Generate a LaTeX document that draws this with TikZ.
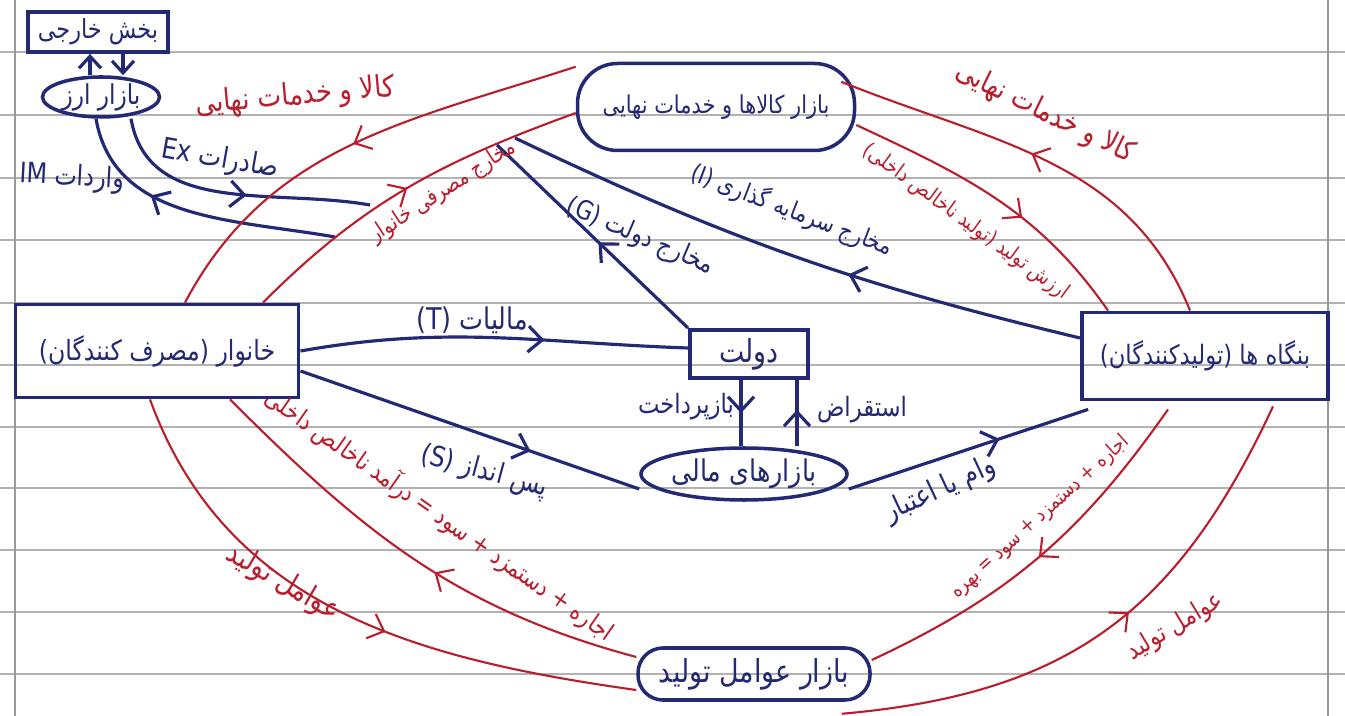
\documentclass[tikz,border=0pt]{standalone}
\usepackage{fontspec}
\usepackage{tikz}
\usetikzlibrary{shapes.geometric,arrows.meta,decorations.markings}
\newfontfamily\fa[Script=Arabic,FakeStretch=0.85]{DejaVu Sans}
\TeXXeTstate=1
\newcommand{\fatxt}[1]{{\fa\beginR #1\endR}}
\newcommand{\fsz}[1]{\fontsize{#1}{#1}\selectfont}
\definecolor{ink}{RGB}{35,42,115}
\definecolor{redink}{RGB}{185,30,45}

\begin{document}
\begin{tikzpicture}[x=0.1mm,y=-0.1mm,
	box/.style={rectangle,draw=ink,line width=1.1pt,text=ink,inner sep=1pt},
	market/.style={rectangle,rounded corners=#1,draw=ink,line width=1pt,text=ink,inner sep=1pt},
	oval/.style={ellipse,inner sep=0pt,draw=ink,line width=1pt,text=ink},
	flow/.style={draw=ink,line width=0.9pt},
	realflow/.style={draw=redink,line width=0.6pt},
	midarrow/.style={postaction={decorate},decoration={markings,mark=at position #1 with {\arrow{Straight Barb[length=1.4mm,width=2.6mm]}}}},
	lbl/.style={text=ink,inner sep=1pt},
	rlbl/.style={text=redink,inner sep=1pt},
	]

	\useasboundingbox (0,0) rectangle (1345,716);
	\fill[white] (0,0) rectangle (1345,716);
	\foreach \y in {52,115,178,240,303,365,427,488,550,612,674}
		\draw[black!30,line width=0.4pt] (0,\y) -- (1345,\y);
	\draw[black!40,line width=0.4pt] (15,0) -- (15,716);
	\draw[black!40,line width=0.4pt] (1328,0) -- (1328,716);

	\node[box,minimum width=14mm,minimum height=4mm,font=\fsz{7.5}] (ext) at (98,32) {\fatxt{بخش خارجی}};
	\node[oval,minimum width=11.7mm,minimum height=4mm,font=\fsz{7.8}] (fx) at (101,97) {\fatxt{بازار ارز}};
	\node[market=4mm,minimum width=27.7mm,minimum height=8.7mm,font=\fsz{7}] (gm) at (716,107) {\fatxt{بازار کالاها و خدمات نهایی}};
	\node[box,minimum width=28.3mm,minimum height=9.3mm,font=\fsz{7.9}] (hh) at (157,351) {\fatxt{خانوار (مصرف کنندگان)}};
	\node[box,minimum width=11.8mm,minimum height=4.8mm,font=\fsz{9}] (gov) at (749,354) {\fatxt{دولت}};
	\node[box,minimum width=24.6mm,minimum height=8.7mm,font=\fsz{7.6}] (fi) at (1205,356) {\fatxt{بنگاه ها (تولیدکنندگان)}};
	\node[oval,minimum width=18.3mm,minimum height=5.2mm,font=\fsz{8.5}] (fin) at (744,474) {\fatxt{بازارهای مالی}};
	\node[market=2.5mm,minimum width=23.2mm,minimum height=5.2mm,font=\fsz{9}] (fm) at (754,674) {\fatxt{بازار عوامل تولید}};

	\coordinate (exend) at (370,205);
	\coordinate (imstart) at (335,237);
	\coordinate (gend) at (497,145);
	\coordinate (iend) at (515,138);

	\draw[flow,-{Straight Barb[length=1.2mm,width=2.2mm]}] ([xshift=-1.1mm]fx.north) -- ([xshift=-1.1mm]fx.north |- ext.south);
	\draw[flow,-{Straight Barb[length=1.2mm,width=2.2mm]}] ([xshift=2.2mm]fx.north |- ext.south) -- ([xshift=2.2mm]fx.north);
	\draw[flow,midarrow=0.55] ([xshift=3mm]fx.south) to[out=-80,in=170] (exend);
	\draw[flow,midarrow=0.66] (imstart) to[out=170,in=-80] ([xshift=-0.5mm]fx.south);

	\draw[flow,midarrow=0.63] (hh.east) to[out=10,in=178] ([yshift=0.6mm]gov.west);
	\draw[flow,midarrow=0.68] ([yshift=-2mm]hh.east) -- ([yshift=-1.5mm]fin.west);
	\draw[flow,midarrow=0.47] (gov.north west) -- (gend);
	\draw[flow,midarrow=0.4] ([yshift=1.8mm]fi.west) to[bend left=6] (iend);
	\draw[flow,midarrow=0.5] ([xshift=-0.8mm]gov.south) -- ([xshift=-0.8mm]gov.south |- fin.north);
	\draw[flow,midarrow=0.55] ([xshift=4.8mm]gov.south |- fin.north) -- ([xshift=4.8mm]gov.south);
	\draw[flow,midarrow=0.63] ([yshift=-1.5mm]fin.east) -- ([xshift=0.8mm,yshift=-0.8mm]fi.south west);

	\draw[realflow,midarrow=0.5] ([yshift=-0.5mm]gm.north west) to[out=198,in=62] ([xshift=2.8mm]hh.north);
	\draw[realflow,midarrow=0.5] ([xshift=10.6mm]hh.north) to[out=45,in=200] ([yshift=-0.6mm]gm.west);
	\draw[realflow,midarrow=0.53] ([xshift=-1.5mm]fi.north) to[out=112,in=-22] ([xshift=-1.5mm,yshift=-2mm]gm.north east);
	\draw[realflow,midarrow=0.6] ([yshift=-1.8mm]gm.east) to[out=-25,in=125] ([xshift=-9.7mm]fi.north);
	\draw[realflow,midarrow=0.57] ([xshift=-0.7mm]hh.south) to[out=-70,in=172] ([yshift=-1.6mm]fm.west);
	\draw[realflow,midarrow=0.45] ([yshift=1.7mm]fm.west) to[out=165,in=-45] ([xshift=7.3mm]hh.south);
	\draw[realflow,midarrow=0.5] ([xshift=-3.7mm,yshift=-0.8mm]fi.south) to[out=235,in=25] ([yshift=1.4mm]fm.east);
	\draw[realflow,midarrow=0.55] ([xshift=-3mm,yshift=-1.2mm]fm.south east) to[out=5,in=245,looseness=1.1] ([xshift=6.8mm,yshift=-0.5mm]fi.south);

	\node[lbl,rotate=-10,font=\fsz{8.2}] (exl) at (220,160) {\fatxt{صادرات \beginL Ex\endL}};
	\node[lbl,rotate=-3,font=\fsz{8}] (iml) at (72,178) {\fatxt{واردات \beginL IM\endL}};
	\node[lbl,font=\fsz{8.5}] (tl) at (472,320) {\fatxt{مالیات \beginL(T)\endL}};
	\node[lbl,rotate=-15,font=\fsz{8}] (sl) at (484,472) {\fatxt{پس انداز \beginL(S)\endL}};
	\node[lbl,rotate=-23,font=\fsz{7.5}] (gl) at (640,237) {\fatxt{مخارج دولت \beginL(G)\endL}};
	\node[lbl,rotate=-21,font=\fsz{7}] (il) at (792,210) {\fatxt{مخارج سرمایه گذاری \beginL(I)\endL}};
	\node[lbl,font=\fsz{7.6}] (repl) at (686,407) {\fatxt{بازپرداخت}};
	\node[lbl,font=\fsz{7.6}] (borl) at (862,410) {\fatxt{استقراض}};
	\node[lbl,rotate=25,font=\fsz{8.2}] (loanl) at (940,490) {\fatxt{وام یا اعتبار}};

	\node[rlbl,rotate=5,font=\fsz{8.5}] (gsl) at (295,97) {\fatxt{کالا و خدمات نهایی}};
	\node[rlbl,rotate=33,font=\fsz{6.3}] (cl) at (443,192) {\fatxt{مخارج مصرفی خانوار}};
	\node[rlbl,rotate=-26,font=\fsz{8.3}] (gsr) at (1045,113) {\fatxt{کالا و خدمات نهایی}};
	\node[rlbl,rotate=-36,font=\fsz{6}] (gdpl) at (966,222) {\fatxt{ارزش تولید (تولید ناخالص داخلی)}};
	\node[rlbl,rotate=-30,font=\fsz{8.5}] (fpl) at (283,583) {\fatxt{عوامل تولید}};
	\node[rlbl,rotate=-35,font=\fsz{7}] (incl) at (440,515) {\fatxt{اجاره + دستمزد + سود = درآمد ناخالص داخلی}};
	\node[rlbl,rotate=42,font=\fsz{5.8}] (payl) at (1040,517) {\fatxt{اجاره + دستمزد + سود = بهره}};
	\node[rlbl,rotate=31,font=\fsz{7.3}] (fpr) at (1175,627) {\fatxt{عوامل تولید}};

\end{tikzpicture}
\end{document}
